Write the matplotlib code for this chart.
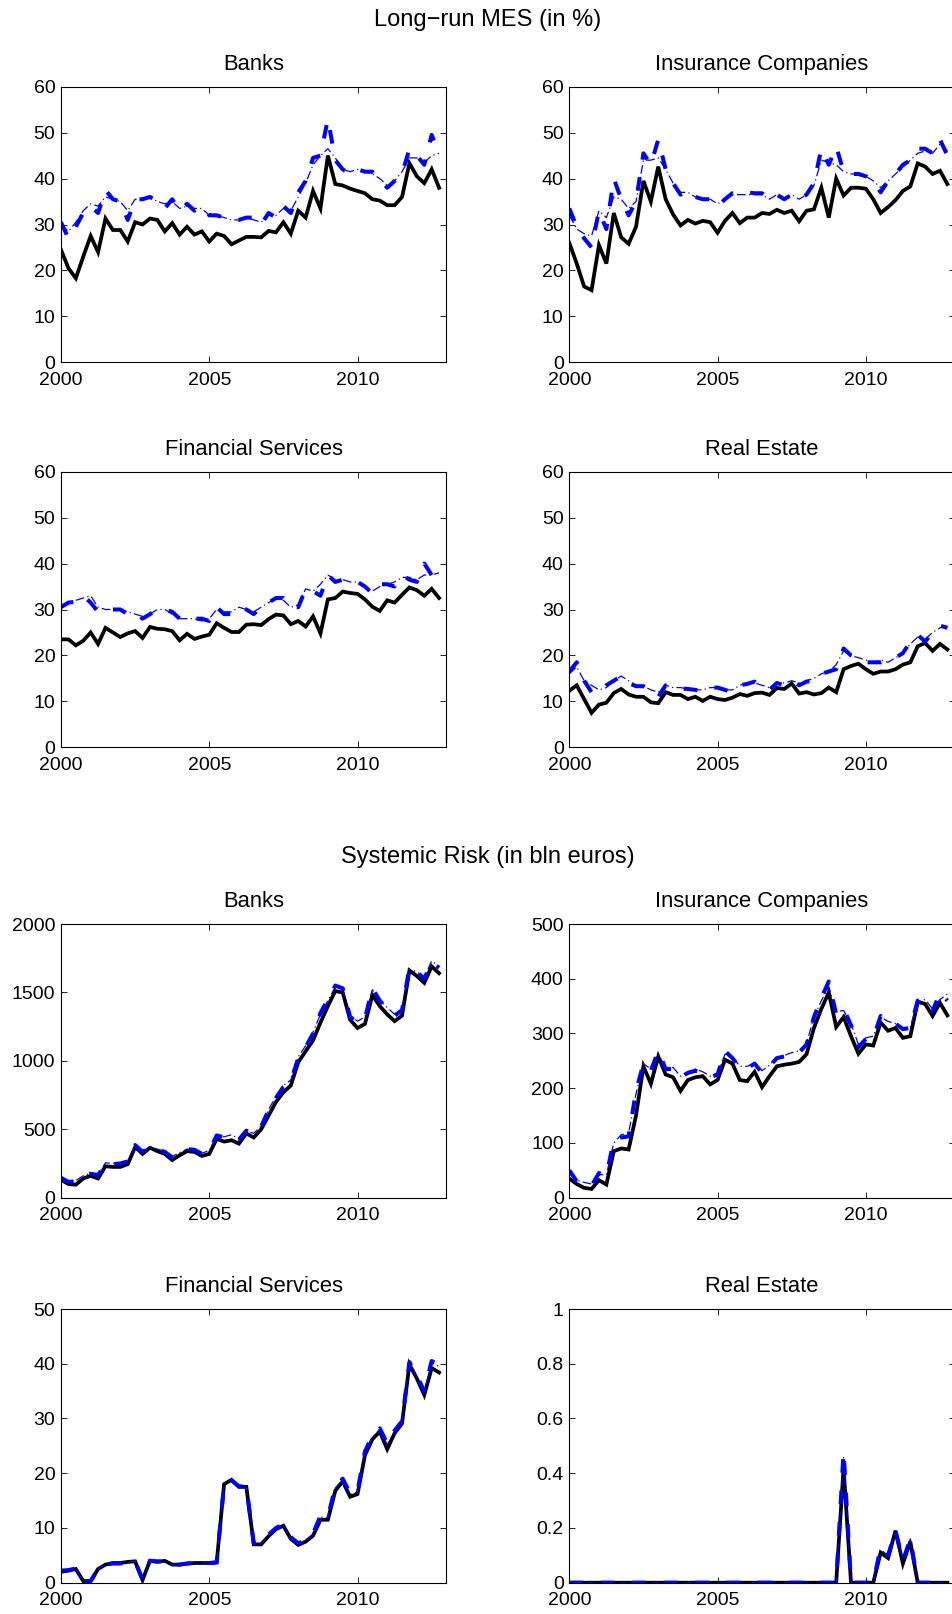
import numpy as np
import matplotlib
matplotlib.use("Agg")
import matplotlib.pyplot as plt
from matplotlib.ticker import FuncFormatter

plt.rcParams['font.family'] = ['Liberation Sans', 'DejaVu Sans']

# quarterly observations 2000Q1 .. 2012Q4
quarters = 2000 + 0.25 * np.arange(52)

# ---------------- Long-run MES (in %) ----------------
mes_banks_solid = [24.5, 20.5, 18.3, 23.0, 27.5, 24.0, 31.3, 28.8, 28.8, 26.3,
                   30.5, 30.0, 31.3, 31.0, 28.5, 30.3, 27.8, 29.5, 27.8, 28.5,
                   26.3, 28.0, 27.5, 25.7, 26.5, 27.3, 27.3, 27.2, 28.6, 28.3,
                   30.5, 28.0, 33.0, 31.5, 37.3, 33.5, 45.0, 38.8, 38.5, 37.8,
                   37.3, 36.8, 35.5, 35.2, 34.2, 34.2, 36.0, 43.3, 40.5, 39.0,
                   42.0, 38.0]
mes_banks_dash = [30.5, 27.0, 29.5, 32.5, 34.0, 32.5, 37.5, 35.5, 35.0, 31.0,
                  35.5, 35.5, 36.0, 35.0, 33.5, 35.5, 33.0, 34.5, 33.0, 34.0,
                  32.0, 32.0, 31.5, 31.0, 31.0, 31.5, 31.5, 30.0, 32.5, 31.5,
                  34.0, 32.5, 37.0, 39.5, 44.5, 45.0, 53.0, 44.0, 42.0, 41.0,
                  42.0, 41.5, 41.5, 40.0, 38.0, 39.5, 41.0, 46.5, 45.0, 43.0,
                  49.5, 45.5]
mes_banks_dashdot = [30.0, 28.5, 30.5, 33.0, 34.5, 34.0, 36.0, 35.5, 35.0, 33.0,
                     35.5, 35.5, 36.0, 35.0, 34.5, 35.0, 33.5, 34.0, 33.5, 33.5,
                     32.0, 32.0, 31.5, 31.0, 31.0, 31.5, 31.0, 30.5, 32.0, 32.0,
                     33.5, 33.0, 36.0, 39.0, 43.0, 45.0, 46.5, 44.5, 42.0, 41.5,
                     42.0, 41.5, 41.0, 40.0, 38.5, 39.5, 41.5, 44.5, 44.5, 43.5,
                     45.0, 45.5]

mes_ins_solid = [26.0, 21.5, 16.5, 15.7, 25.5, 21.5, 32.5, 27.2, 25.8, 29.5,
                 39.5, 35.0, 42.6, 35.5, 32.2, 29.8, 31.0, 30.2, 30.8, 30.5,
                 28.2, 30.8, 32.5, 30.3, 31.5, 31.5, 32.5, 32.3, 33.2, 32.5,
                 33.0, 30.7, 33.0, 33.3, 38.0, 31.5, 40.0, 36.3, 38.0, 38.0,
                 37.8, 35.5, 32.5, 33.8, 35.3, 37.3, 38.3, 43.3, 42.6, 41.0,
                 41.7, 38.8]
mes_ins_dash = [33.5, 29.5, 27.0, 25.0, 33.0, 29.0, 40.0, 35.5, 32.0, 35.0,
                45.5, 43.0, 48.5, 42.0, 39.0, 36.5, 37.5, 36.0, 35.5, 35.5,
                34.0, 35.5, 36.8, 36.5, 37.0, 36.8, 36.8, 35.5, 36.5, 35.5,
                36.5, 35.5, 36.5, 39.0, 46.5, 43.0, 47.0, 41.5, 41.0, 41.0,
                40.5, 39.5, 37.0, 39.5, 41.0, 43.0, 44.0, 46.5, 46.5, 45.5,
                48.5, 45.0]
mes_ins_dashdot = [32.0, 29.0, 28.0, 27.5, 33.0, 31.5, 36.0, 35.5, 33.5, 35.0,
                   44.0, 44.0, 44.5, 42.0, 39.0, 37.0, 37.0, 36.0, 35.5, 35.5,
                   34.5, 35.5, 36.5, 36.5, 36.5, 36.5, 36.5, 35.5, 36.5, 35.5,
                   36.5, 35.5, 36.5, 38.5, 44.0, 43.5, 43.0, 41.5, 41.0, 41.0,
                   40.5, 39.5, 38.0, 39.5, 41.0, 42.5, 44.0, 45.5, 46.0, 45.5,
                   47.5, 46.0]

mes_fin_solid = [23.5, 23.5, 22.2, 23.2, 25.0, 22.5, 26.0, 25.0, 24.0, 24.8,
                 25.3, 23.8, 26.2, 25.8, 25.7, 25.3, 23.3, 24.7, 23.6, 24.1,
                 24.5, 27.0, 26.0, 25.1, 25.1, 26.7, 26.8, 26.6, 27.9, 28.9,
                 28.7, 26.8, 27.5, 26.3, 28.5, 24.8, 32.2, 32.5, 33.9, 33.6,
                 33.4, 32.2, 30.6, 29.7, 32.0, 31.5, 33.2, 34.8, 34.2, 33.0,
                 34.5, 32.5]
mes_fin_dash = [30.5, 31.5, 31.7, 33.0, 31.5, 29.5, 30.0, 30.0, 30.0, 29.0,
                29.5, 28.0, 29.0, 30.0, 30.0, 29.5, 28.0, 28.5, 28.0, 28.0,
                27.5, 30.5, 29.0, 29.0, 30.5, 30.0, 29.0, 30.5, 31.5, 32.5,
                32.5, 30.5, 30.5, 34.5, 34.0, 33.0, 37.5, 36.0, 36.5, 36.5,
                36.0, 35.0, 33.5, 35.5, 35.5, 35.0, 37.5, 36.5, 36.0, 40.0,
                37.5, 37.5]
mes_fin_dashdot = [30.5, 31.5, 32.0, 32.5, 33.0, 30.5, 30.0, 30.0, 30.0, 29.5,
                   29.0, 28.5, 29.0, 30.0, 30.0, 29.0, 28.0, 28.0, 28.0, 27.5,
                   28.0, 30.0, 29.5, 29.5, 30.5, 30.0, 29.5, 30.5, 31.5, 32.5,
                   32.0, 30.5, 31.0, 34.5, 34.0, 35.5, 37.5, 36.5, 36.5, 36.0,
                   36.0, 35.0, 34.0, 35.0, 35.5, 36.0, 37.0, 37.0, 36.5, 37.5,
                   37.5, 38.0]

mes_re_solid = [12.3, 13.5, 10.5, 7.5, 9.3, 9.7, 11.8, 12.7, 11.5, 11.0,
                11.0, 9.8, 9.6, 12.0, 11.4, 11.4, 10.5, 11.0, 10.1, 11.0,
                10.5, 10.3, 10.8, 11.6, 11.2, 11.8, 11.9, 11.4, 12.9, 12.7,
                13.9, 11.7, 12.0, 11.5, 11.8, 13.0, 12.0, 17.0, 17.7, 18.2,
                17.0, 16.0, 16.5, 16.5, 17.0, 18.0, 18.5, 22.0, 22.7, 21.0,
                22.5, 21.3]
mes_re_dash = [16.5, 18.5, 14.5, 12.0, 11.8, 13.5, 14.5, 15.5, 14.0, 13.3,
               13.3, 12.5, 11.0, 13.5, 13.0, 12.8, 12.7, 12.5, 12.3, 13.0,
               13.0, 12.5, 12.0, 13.5, 13.8, 14.3, 13.0, 12.5, 14.0, 13.5,
               14.5, 13.5, 14.3, 14.5, 16.0, 16.5, 17.0, 21.5, 20.0, 19.5,
               18.5, 18.5, 18.5, 19.0, 19.5, 20.5, 23.0, 24.5, 23.0, 25.0,
               26.5, 26.0]
mes_re_dashdot = [16.0, 17.5, 14.5, 13.5, 12.5, 13.0, 14.5, 15.5, 14.5, 13.5,
                  13.3, 12.5, 12.0, 13.5, 13.0, 13.0, 12.7, 12.5, 12.5, 13.0,
                  13.0, 12.5, 12.5, 13.5, 14.0, 14.0, 13.5, 13.0, 14.0, 14.0,
                  14.5, 14.0, 14.5, 15.0, 16.0, 16.5, 18.0, 21.0, 20.0, 19.5,
                  19.0, 18.5, 19.0, 18.5, 19.5, 20.5, 22.5, 24.0, 23.5, 25.0,
                  26.0, 26.5]

# ---------------- Systemic Risk (in bln euros) ----------------
sr_banks_solid = [130, 100, 95, 140, 160, 140, 230, 225, 225, 245,
                  370, 320, 365, 340, 320, 275, 310, 340, 335, 305,
                  320, 430, 410, 420, 395, 470, 440, 500, 600, 700,
                  770, 820, 990, 1070, 1150, 1280, 1400, 1510, 1500, 1300,
                  1240, 1270, 1480, 1400, 1340, 1290, 1330, 1660, 1620, 1570,
                  1690, 1640]
sr_banks_dash = [145, 115, 120, 155, 175, 165, 250, 245, 250, 265,
                 385, 335, 370, 350, 335, 295, 325, 355, 350, 320,
                 340, 455, 440, 455, 425, 490, 465, 520, 640, 730,
                 810, 850, 1020, 1100, 1200, 1350, 1450, 1550, 1530, 1320,
                 1280, 1310, 1530, 1440, 1380, 1330, 1370, 1680, 1650, 1600,
                 1720, 1680]
sr_banks_dashdot = [150, 120, 125, 160, 180, 170, 255, 250, 255, 270,
                    380, 340, 370, 355, 340, 300, 330, 355, 350, 325,
                    345, 450, 445, 460, 430, 490, 470, 525, 645, 740,
                    820, 860, 1030, 1110, 1210, 1340, 1440, 1540, 1520, 1330,
                    1290, 1320, 1520, 1440, 1390, 1340, 1380, 1670, 1650, 1610,
                    1730, 1690]

sr_ins_solid = [35, 25, 18, 16, 32, 24, 85, 90, 88, 150,
                240, 208, 258, 225, 220, 195, 215, 220, 222, 207,
                215, 252, 245, 215, 213, 230, 202, 222, 240, 243,
                245, 248, 262, 310, 345, 375, 312, 330, 295, 263,
                280, 278, 320, 305, 310, 292, 295, 358, 354, 332,
                356, 333]
sr_ins_dash = [50, 30, 25, 22, 45, 40, 105, 110, 112, 195,
               245, 232, 268, 235, 235, 220, 228, 232, 228, 220,
               225, 268, 255, 238, 236, 245, 228, 240, 255, 258,
               262, 265, 280, 330, 365, 395, 335, 345, 315, 275,
               290, 292, 332, 320, 318, 308, 310, 360, 360, 340,
               375, 360]
sr_ins_dashdot = [45, 32, 28, 25, 42, 42, 100, 115, 118, 190,
                  245, 235, 262, 238, 238, 222, 230, 235, 230, 222,
                  228, 262, 258, 240, 240, 246, 232, 242, 256, 260,
                  265, 268, 282, 330, 360, 385, 340, 342, 318, 280,
                  292, 295, 330, 322, 318, 310, 312, 358, 362, 345,
                  362, 372]

sr_fin_solid = [2.0, 2.2, 2.5, 0.3, 0.3, 2.5, 3.3, 3.6, 3.6, 3.8,
                3.9, 0.5, 4.0, 3.8, 4.0, 3.3, 3.3, 3.5, 3.6, 3.6,
                3.6, 3.7, 18.0, 18.8, 17.5, 17.5, 7.0, 7.0, 8.5, 9.8,
                10.4, 8.0, 6.9, 7.5, 8.6, 11.5, 11.5, 16.8, 18.5, 15.7,
                16.2, 23.3, 26.2, 27.6, 24.4, 27.3, 29.1, 39.9, 37.3, 34.3,
                39.2, 38.4]
sr_fin_dash = [2.2, 2.3, 2.6, 0.3, 0.3, 2.5, 3.3, 3.5, 3.5, 3.7,
               3.8, 0.6, 4.0, 3.9, 3.9, 3.3, 3.3, 3.5, 3.6, 3.6,
               3.6, 3.7, 18.0, 18.7, 17.6, 17.6, 7.2, 7.2, 8.8, 10.0,
               10.6, 8.3, 7.2, 7.8, 9.0, 12.2, 12.0, 17.5, 19.0, 16.3,
               16.8, 24.0, 26.8, 28.2, 25.4, 27.8, 29.5, 40.3, 37.8, 35.0,
               40.5, 39.8]
sr_fin_dashdot = [2.1, 2.3, 2.5, 0.3, 0.3, 2.5, 3.3, 3.6, 3.6, 3.8,
                  3.9, 0.6, 4.0, 3.9, 4.0, 3.3, 3.3, 3.5, 3.6, 3.6,
                  3.6, 3.7, 18.0, 18.8, 17.6, 17.6, 7.1, 7.1, 8.7, 9.9,
                  10.5, 8.2, 7.1, 7.7, 8.9, 12.0, 11.8, 17.3, 18.8, 16.1,
                  16.6, 23.8, 26.6, 28.0, 25.2, 27.6, 29.4, 40.1, 37.6, 34.8,
                  40.2, 39.5]

sr_re_solid = [0.0] * 37 + [0.42, 0.0, 0.0, 0.0, 0.0, 0.11, 0.09, 0.19, 0.07,
                            0.15, 0.0, 0.0, 0.0, 0.0, 0.0]
sr_re_dash = [0.0] * 37 + [0.48, 0.0, 0.0, 0.0, 0.0, 0.13, 0.10, 0.19, 0.08,
                           0.16, 0.0, 0.0, 0.0, 0.0, 0.0]
sr_re_dashdot = [0.0] * 37 + [0.46, 0.0, 0.0, 0.0, 0.0, 0.12, 0.10, 0.19, 0.08,
                              0.16, 0.0, 0.0, 0.0, 0.0, 0.0]

panel_titles = ["Banks", "Insurance Companies", "Financial Services", "Real Estate"]
x_ticks = [2000, 2005, 2010]
mes_yticks = [0, 10, 20, 30, 40, 50, 60]
sr_yticks = [[0, 500, 1000, 1500, 2000],
             [0, 100, 200, 300, 400, 500],
             [0, 10, 20, 30, 40, 50],
             [0, 0.2, 0.4, 0.6, 0.8, 1]]

mes_data = [(mes_banks_solid, mes_banks_dash, mes_banks_dashdot),
            (mes_ins_solid, mes_ins_dash, mes_ins_dashdot),
            (mes_fin_solid, mes_fin_dash, mes_fin_dashdot),
            (mes_re_solid, mes_re_dash, mes_re_dashdot)]
sr_data = [(sr_banks_solid, sr_banks_dash, sr_banks_dashdot),
           (sr_ins_solid, sr_ins_dash, sr_ins_dashdot),
           (sr_fin_solid, sr_fin_dash, sr_fin_dashdot),
           (sr_re_solid, sr_re_dash, sr_re_dashdot)]

W, H = 953, 1614
fig = plt.figure(figsize=(W / 100, H / 100), dpi=100)

col_left = [61, 569.3]
ax_w = 385.5
rows = [(86.7, 362.3), (471.7, 747.3), (924.0, 1197.7), (1309.0, 1582.7)]

TICK_FS = 14
TITLE_FS = 15.8
SUP_FS = 17


def fmt(v, pos):
    return "%g" % v


def make_axes(row, col):
    top, bot = rows[row]
    left = col_left[col]
    ax = fig.add_axes([left / W, 1 - bot / H, ax_w / W, (bot - top) / H])
    return ax


def draw(ax, series, yticks, title):
    solid, dash, dashdot = series
    ax.plot(quarters, solid, color='black', lw=2.7, solid_joinstyle='miter')
    ax.plot(quarters, dash, color=(0, 0, 1), lw=2.9, linestyle=(0, (3.4, 4.4)))
    ax.plot(quarters, dashdot, color=(0, 0, 1), lw=0.9,
            linestyle=(0, (7.0, 2.6, 1.0, 2.6)))
    ax.set_xlim(2000, 2013)
    ax.set_ylim(yticks[0], yticks[-1])
    ax.set_xticks(x_ticks)
    ax.set_yticks(yticks)
    ax.yaxis.set_major_formatter(FuncFormatter(fmt))
    ax.tick_params(direction='in', top=True, right=True, length=4, width=0.6,
                   labelsize=TICK_FS)
    ax.tick_params(axis='x', pad=7)
    ax.tick_params(axis='y', pad=4)
    for s in ax.spines.values():
        s.set_linewidth(0.8)
    ax.set_title(title, fontsize=TITLE_FS, pad=12)


for k in range(4):
    r, c = divmod(k, 2)
    ax = make_axes(r, c)
    draw(ax, mes_data[k], mes_yticks, panel_titles[k])

for k in range(4):
    r, c = divmod(k, 2)
    ax = make_axes(r + 2, c)
    draw(ax, sr_data[k], sr_yticks[k], panel_titles[k])

fig.text(488 / W, 1 - 20 / H, "Long\u2212run MES (in %)", ha='center',
         va='center', fontsize=SUP_FS)
fig.text(488 / W, 1 - 857 / H, "Systemic Risk (in bln euros)", ha='center',
         va='center', fontsize=SUP_FS)

fig.savefig("out.png", dpi=100)
